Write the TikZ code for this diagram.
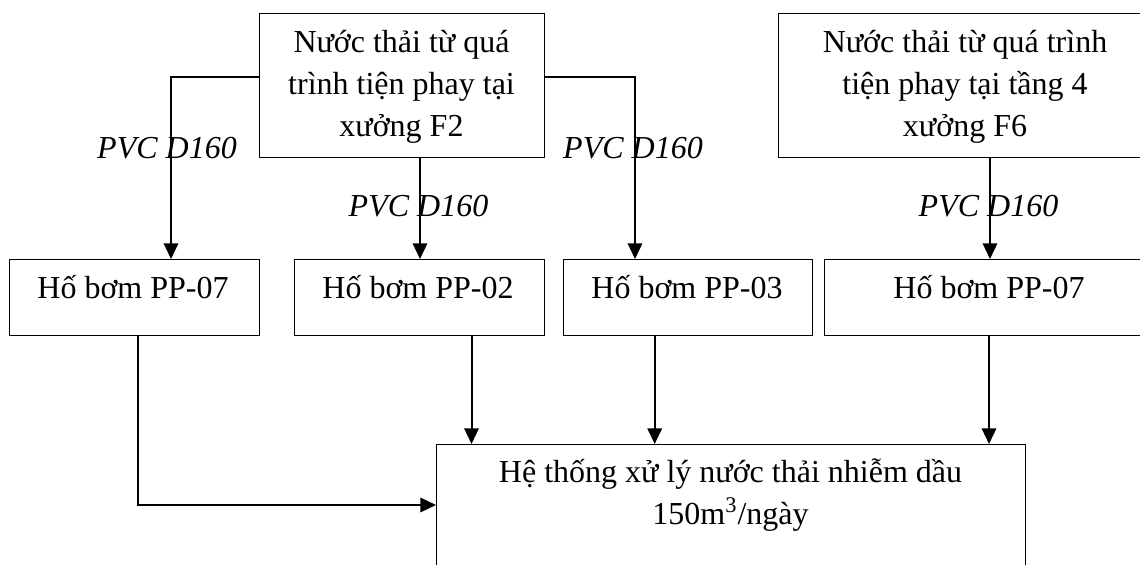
\documentclass[tikz,border=0pt]{standalone}
\usepackage{fontspec}
\setmainfont{Liberation Serif}
\usetikzlibrary{arrows.meta}
\begin{document}
\begin{tikzpicture}[x=0.5pt,y=-0.5pt,
  font=\fontsize{16}{21}\selectfont,
  box/.style={draw, line width=0.7pt, inner sep=0pt, anchor=north west},
  txt/.style={anchor=base, inner sep=0pt},
  pipe/.style={txt, font=\fontsize{16}{21}\selectfont\itshape},
  flow/.style={line width=1pt, -{Triangle[length=7.8pt,width=7.2pt]}}]
\useasboundingbox (0,0) rectangle (1140,565);
\clip (0,0) rectangle (1140,565);

% wastewater sources
\node[box, minimum width=142.5pt, minimum height=72pt] (srcA) at (259,13) {};
\node[box, minimum width=187pt, minimum height=72pt] (srcB) at (778,13) {};
% pump pits
\node[box, minimum width=125pt, minimum height=38pt] (pp1) at (9,259) {};
\node[box, minimum width=125pt, minimum height=38pt] (pp2) at (294,259) {};
\node[box, minimum width=124.5pt, minimum height=38pt] (pp3) at (563,259) {};
\node[box, minimum width=164.5pt, minimum height=38pt] (pp4) at (824,259) {};
% treatment system
\node[box, minimum width=294.5pt, minimum height=90pt] (sys) at (436,444) {};

% box texts
\node[txt] (srcA1) at (401.5,53) {Nước thải từ quá};
\node[txt] (srcA2) at (401.5,95) {trình tiện phay tại};
\node[txt] (srcA3) at (401.5,137) {xưởng F2};
\node[txt] (srcB1) at (965,53) {Nước thải từ quá trình};
\node[txt] (srcB2) at (965,95) {tiện phay tại tầng 4};
\node[txt] (srcB3) at (965,137) {xưởng F6};
\node[txt] (pp1t) at (133,299) {Hố bơm PP-07};
\node[txt] (pp2t) at (418,299) {Hố bơm PP-02};
\node[txt] (pp3t) at (687,299) {Hố bơm PP-03};
\node[txt] (pp4t) at (989,299) {Hố bơm PP-07};
\node[txt] (sys1) at (730.5,483) {Hệ thống xử lý nước thải nhiễm dầu};
\node[txt] (sys2) at (730.5,525) {150m\textsuperscript{3}/ngày};

% pipe routes
\coordinate (jA) at (171,77);
\coordinate (jB) at (635,77);
\coordinate (dA) at (420,0);
\coordinate (dB) at (990,0);
\coordinate (k1) at (138,505);
\coordinate (k2) at (471.5,0);
\coordinate (k3) at (654.7,0);
\coordinate (k4) at (989,0);

\draw[flow] (srcA.west |- jA) -| (jA |- pp1.north);
\draw[flow] (srcA.east |- jB) -| (jB |- pp3.north);
\draw[flow] (srcA.south -| dA) -- (pp2.north -| dA);
\draw[flow] (srcB.south -| dB) -- (pp4.north -| dB);

\draw[flow] (pp1.south -| k1) |- (sys.west |- k1);
\draw[flow] (pp2.south -| k2) -- (sys.north -| k2);
\draw[flow] (pp3.south -| k3) -- (sys.north -| k3);
\draw[flow] (pp4.south -| k4) -- (sys.north -| k4);

% pipe labels
\node[pipe] (lbA) at (167,159) {PVC D160};
\node[pipe] (lbB) at (633,159) {PVC D160};
\node[pipe] (lbC) at (418.5,217) {PVC D160};
\node[pipe] (lbD) at (988.5,217) {PVC D160};
\end{tikzpicture}
\end{document}
